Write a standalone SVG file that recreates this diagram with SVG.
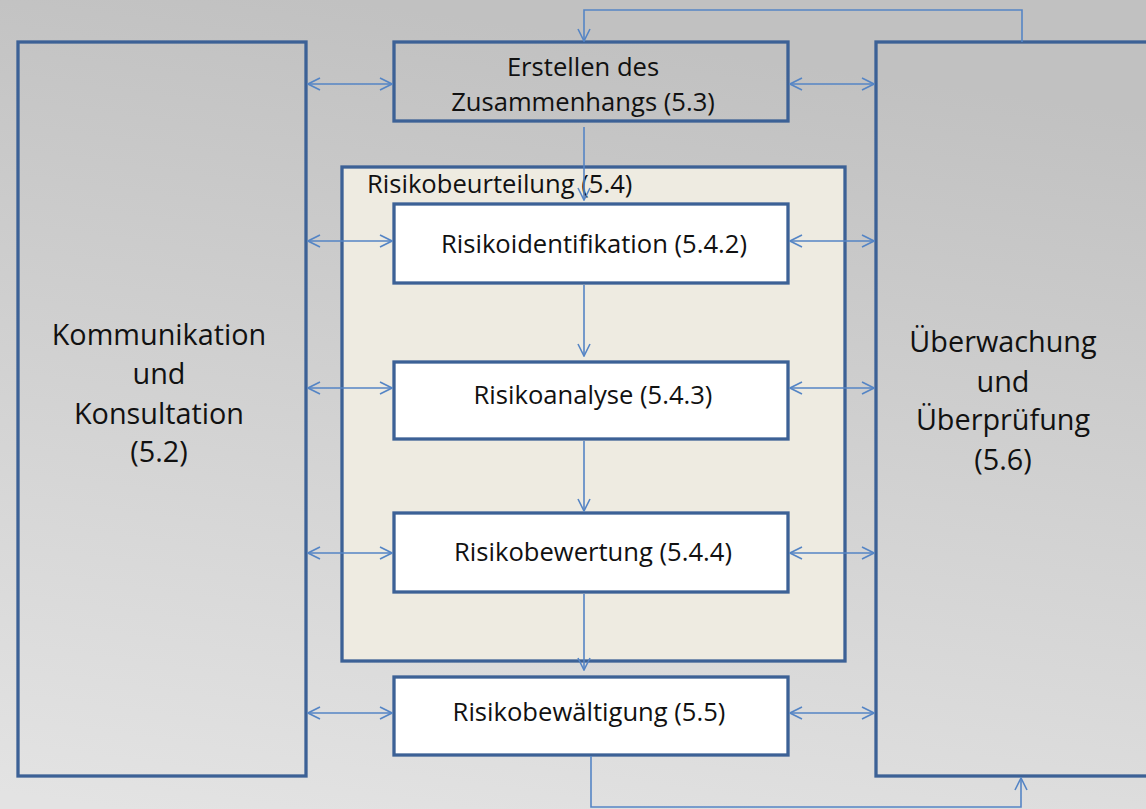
<svg xmlns="http://www.w3.org/2000/svg" width="1146" height="809" viewBox="0 0 1146 809">
<defs>
<linearGradient id="bg" x1="0.3" y1="0" x2="0.1" y2="1">
<stop offset="0" stop-color="#c1c1c1"/>
<stop offset="1" stop-color="#e3e3e3"/>
</linearGradient>
<marker id="ah" viewBox="0 0 14 14" refX="13" refY="7" markerWidth="14" markerHeight="14" markerUnits="userSpaceOnUse" orient="auto-start-reverse">
<path d="M1,1 L13,7 L1,13" fill="none" stroke="#5585c5" stroke-width="1.6"/>
</marker>
</defs>
<style>
.box{stroke:#3c6196;stroke-width:3.3;}
.clear{fill:none;}
.white{fill:#ffffff;}
.conn{fill:none;stroke:#5585c5;stroke-width:1.6;}
.t{font-family:"Open Sans","Noto Sans",sans-serif;fill:#111;text-anchor:middle;}
.s{font-size:25.6px;}
.b{font-size:28.8px;}
</style>
<rect x="0" y="0" width="1146" height="809" fill="url(#bg)"/>

<g id="kommunikation">
<rect class="box clear" x="18" y="42" width="288" height="734"/>
<text class="t b" x="159" y="345">Kommunikation</text>
<text class="t b" x="159" y="384">und</text>
<text class="t b" x="159" y="424">Konsultation</text>
<text class="t b" x="159" y="462">(5.2)</text>
</g>

<g id="ueberwachung">
<rect class="box clear" x="876" y="42" width="300" height="734"/>
<text class="t b" x="1003" y="352">Überwachung</text>
<text class="t b" x="1003" y="392">und</text>
<text class="t b" x="1003" y="430">Überprüfung</text>
<text class="t b" x="1003" y="470">(5.6)</text>
</g>

<g id="zusammenhang">
<rect class="box clear" x="394" y="42" width="394" height="79"/>
<text class="t s" x="583" y="76">Erstellen des</text>
<text class="t s" x="583" y="111">Zusammenhangs (5.3)</text>
</g>

<g id="risikobeurteilung">
<rect class="box" fill="#eeebe1" x="342" y="167" width="503" height="494"/>
<text class="t s" x="367" y="193" style="text-anchor:start">Risikobeurteilung (5.4)</text>
</g>

<g id="risikoidentifikation">
<rect class="box white" x="394" y="204" width="394" height="79"/>
<text class="t s" x="594" y="253">Risikoidentifikation (5.4.2)</text>
</g>

<g id="risikoanalyse">
<rect class="box white" x="394" y="362" width="394" height="77"/>
<text class="t s" x="593" y="404">Risikoanalyse (5.4.3)</text>
</g>

<g id="risikobewertung">
<rect class="box white" x="394" y="513" width="394" height="79"/>
<text class="t s" x="593" y="561">Risikobewertung (5.4.4)</text>
</g>

<g id="risikobewaeltigung">
<rect class="box white" x="394" y="677" width="394" height="78"/>
<text class="t s" x="589" y="721">Risikobewältigung (5.5)</text>
</g>

<g id="connectors">
<path class="conn" d="M584,127 L584,200" marker-end="url(#ah)"/>
<path class="conn" d="M584,285 L584,356" marker-end="url(#ah)"/>
<path class="conn" d="M584,441 L584,511" marker-end="url(#ah)"/>
<path class="conn" d="M584,594 L584,670" marker-end="url(#ah)"/>
<path class="conn" d="M1022,42 L1022,10 L584,10 L584,41" marker-end="url(#ah)"/>
<path class="conn" d="M591,756 L591,807 L1021,807 L1021,778" marker-end="url(#ah)"/>
<path class="conn" d="M308,84 L392,84" marker-start="url(#ah)" marker-end="url(#ah)"/>
<path class="conn" d="M790,84 L874,84" marker-start="url(#ah)" marker-end="url(#ah)"/>
<path class="conn" d="M308,241 L392,241" marker-start="url(#ah)" marker-end="url(#ah)"/>
<path class="conn" d="M790,241 L874,241" marker-start="url(#ah)" marker-end="url(#ah)"/>
<path class="conn" d="M308,388 L392,388" marker-start="url(#ah)" marker-end="url(#ah)"/>
<path class="conn" d="M790,388 L874,388" marker-start="url(#ah)" marker-end="url(#ah)"/>
<path class="conn" d="M308,553 L392,553" marker-start="url(#ah)" marker-end="url(#ah)"/>
<path class="conn" d="M790,553 L874,553" marker-start="url(#ah)" marker-end="url(#ah)"/>
<path class="conn" d="M308,713 L392,713" marker-start="url(#ah)" marker-end="url(#ah)"/>
<path class="conn" d="M790,713 L874,713" marker-start="url(#ah)" marker-end="url(#ah)"/>
</g>
</svg>
